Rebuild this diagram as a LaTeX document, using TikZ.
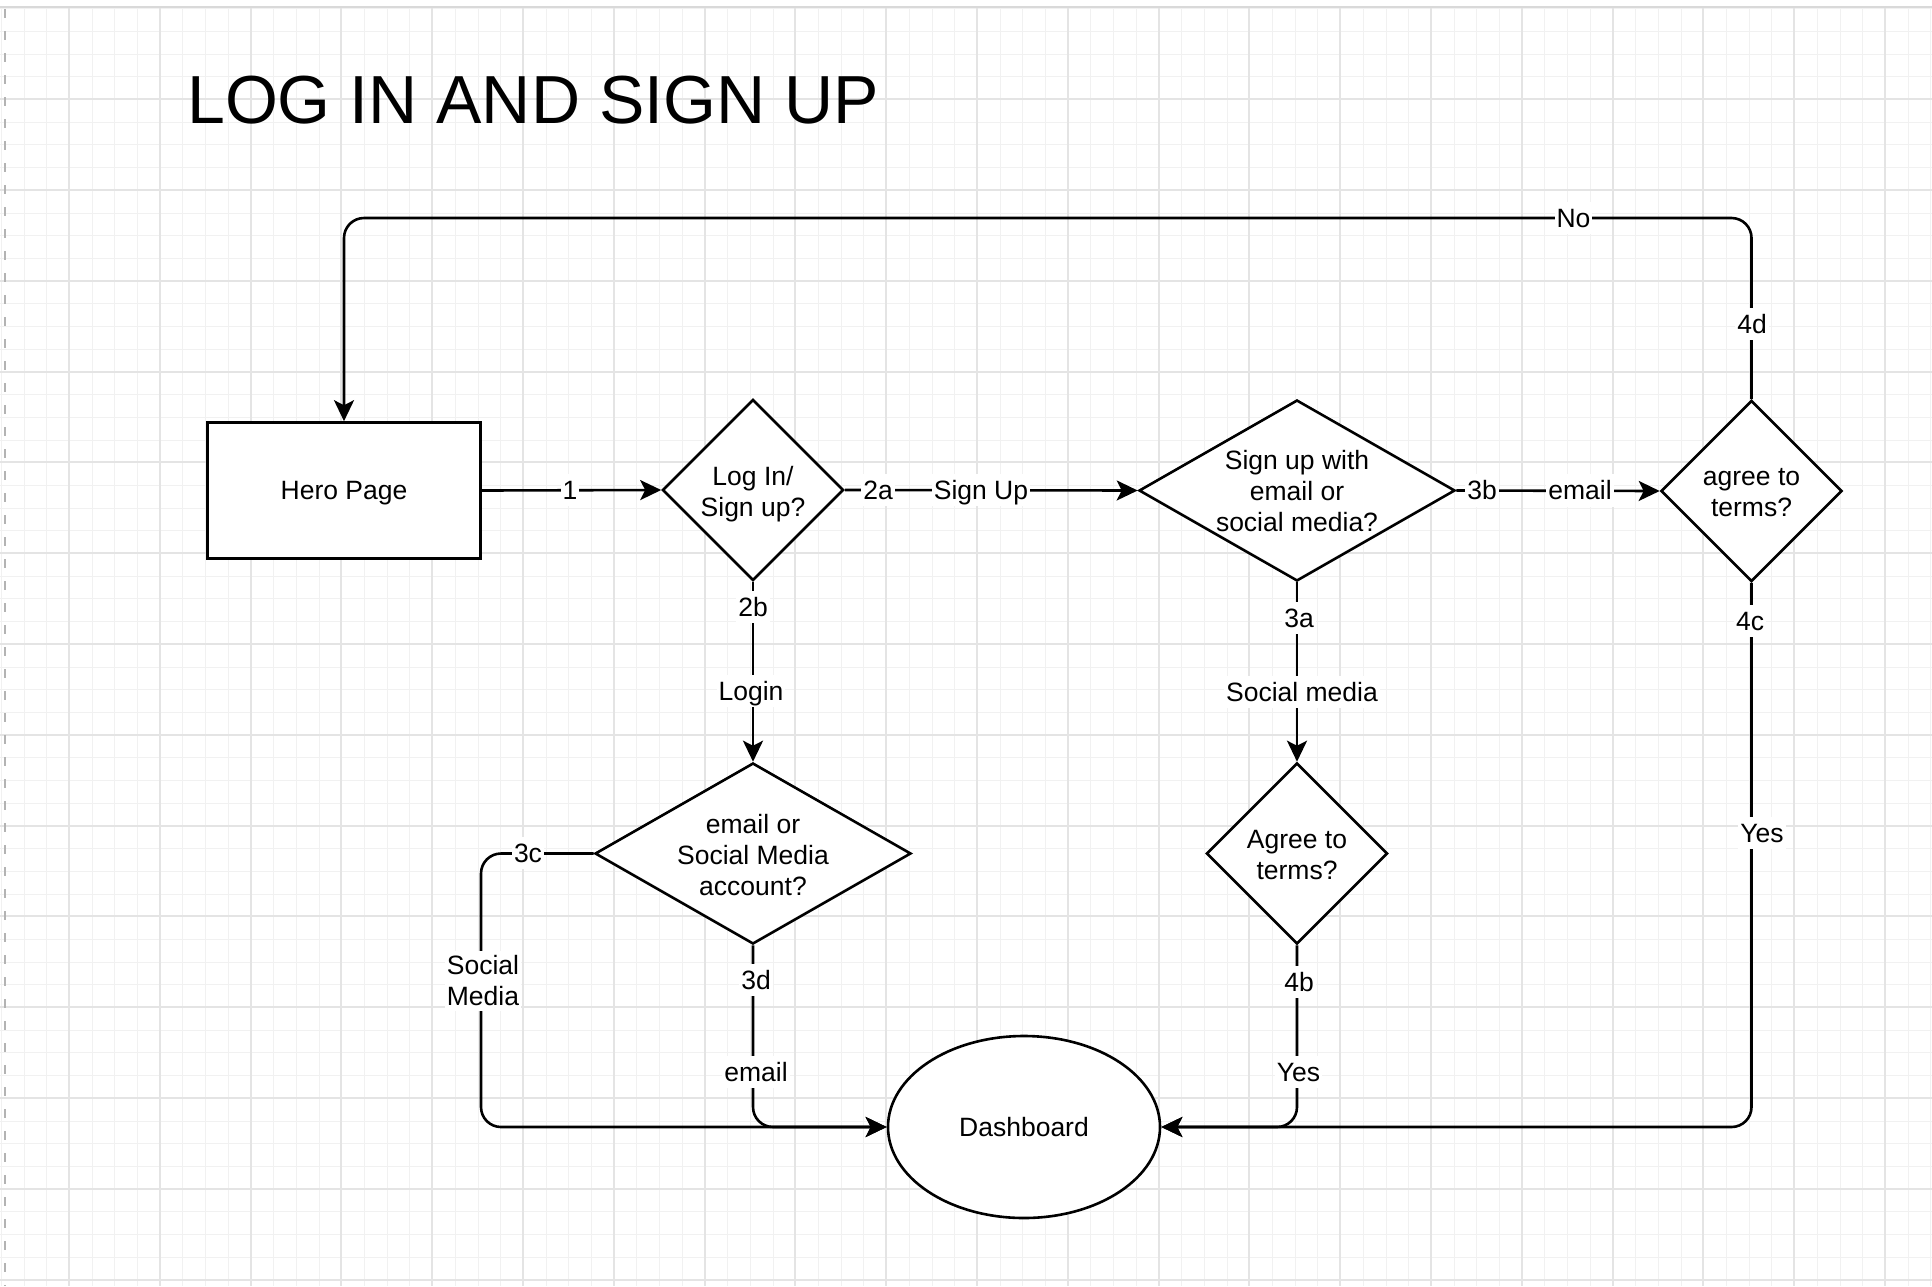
\documentclass[tikz,border=0pt]{standalone}
\usepackage{fontspec}
\setmainfont{Liberation Sans}
\usetikzlibrary{shapes.geometric,arrows.meta}
\definecolor{gridmin}{HTML}{F1F1F1}
\definecolor{gridmaj}{HTML}{E4E4E4}
\definecolor{frameline}{HTML}{D9D9D9}
\definecolor{pagedash}{HTML}{B3B3B3}
\newcommand\fsnode{\fontsize{26.5}{31}\selectfont}
\newcommand\fstitle{\fontsize{68}{80}\selectfont}

\begin{document}
\begin{tikzpicture}[x=1pt,y=-1pt,
  shapebox/.style={draw, line width=2.6pt, fill=white, font=\fsnode, inner sep=0pt},
  onelinetext/.style={text height=24pt, text depth=5.6pt},
  rectbox/.style={shapebox, onelinetext, rectangle, minimum width=273pt, minimum height=136pt},
  decision/.style={shapebox, diamond, minimum width=181pt, minimum height=181pt},
  widedecision/.style={shapebox, diamond, minimum width=316pt, minimum height=181pt},
  ovalbox/.style={shapebox, onelinetext, ellipse, minimum width=272pt, minimum height=182pt},
  boxtext/.style={font=\fsnode, align=center, inner sep=0pt, yshift=-1.5pt},
  conn/.style={line width=2.6pt, rounded corners=20pt,
    -{Stealth[length=21pt,width=20pt,inset=5pt]}},
  edgelabel/.style={fill=white, font=\fsnode, onelinetext, inner xsep=2pt, inner ysep=1.5pt},
  edgelabeltwo/.style={fill=white, font=\fsnode, align=center, inner xsep=2pt, inner ysep=5pt},
  minorline/.style={gridmin, line width=1pt},
  majorline/.style={gridmaj, line width=2pt}
]
% page and background grid
\useasboundingbox (0,0) rectangle (1932,1286);
\fill[white] (0,0) rectangle (1932,1286);
\foreach \m in {-3,...,82} {
  \pgfmathsetmacro{\gx}{round(69+22.7*\m)+0.5}
  \draw[minorline] (\gx,8) -- (\gx,1286);
}
\foreach \m in {0,...,56} {
  \pgfmathsetmacro{\gy}{round(8.3+22.7*\m)+0.5}
  \draw[minorline] (0,\gy) -- (1932,\gy);
}
\foreach \m in {0,...,20} {
  \pgfmathsetmacro{\gx}{round(69+90.8*\m)}
  \draw[majorline] (\gx,8) -- (\gx,1286);
}
\foreach \m in {1,...,14} {
  \pgfmathsetmacro{\gy}{round(8.3+90.8*\m)}
  \draw[majorline] (0,\gy) -- (1932,\gy);
}
\draw[frameline, line width=1.6pt] (0,7) -- (1932,7);
\draw[pagedash, line width=1.6pt, dash pattern=on 9pt off 13pt] (5,9) -- (5,1286);

% title
\node[anchor=base west, font=\fstitle, inner sep=0pt] (title) at (187,123) {LOG IN AND SIGN UP};

% shapes
\node[rectbox] (hero) at (344,490.5) {Hero Page};
\node[decision] (login) at (753,490) {};
\node[boxtext, yshift=-2.5pt] (loginT) at (login) {Log In/\\Sign up?};
\node[widedecision] (method) at (1297,490.5) {};
\node[boxtext, yshift=1pt] (methodT) at (method) {Sign up with\\email or\\social media?};
\node[decision] (terms) at (1751.5,491) {};
\node[boxtext] (termsT) at (terms) {agree to\\terms?};
\node[widedecision] (account) at (753,853.5) {};
\node[boxtext] (accountT) at (account) {email or\\Social Media\\account?};
\node[decision] (socialterms) at (1297,853.5) {};
\node[boxtext] (socialtermsT) at (socialterms) {Agree to\\terms?};
\node[ovalbox] (dash) at (1024,1127) {Dashboard};

% connectors
\coordinate (topY) at (0,218);
\coordinate (leftX) at (481,0);
\draw[conn] (hero.east) -- (login.west);
\draw[conn] (login.east) -- (method.west);
\draw[conn] (method.east) -- (terms.west);
\draw[conn] (terms.north) -- (terms.north |- topY) -- (hero.north |- topY) -- (hero.north);
\draw[conn] (login.south) -- (account.north);
\draw[conn] (method.south) -- (socialterms.north);
\draw[conn] (account.west) -- (account.west -| leftX) -- (leftX |- dash.west) -- (dash.west);
\draw[conn] (account.south) |- (dash.west);
\draw[conn] (socialterms.south) |- (dash.east);
\draw[conn] (terms.south) |- (dash.east);

% connector labels
\node[edgelabel] (l1) at (570,490) {1};
\node[edgelabel] (l2a) at (878,490) {2a};
\node[edgelabel] (lsignup) at (981,490) {Sign Up};
\node[edgelabel] (l3b) at (1482,490.5) {3b};
\node[edgelabel] (lemailA) at (1580,490.5) {email};
\node[edgelabel] (l4d) at (1752,324) {4d};
\node[edgelabel] (lno) at (1573.5,218) {No};
\node[edgelabel] (l2b) at (753,607) {2b};
\node[edgelabel] (llogin) at (751,691) {Login};
\node[edgelabel] (l3a) at (1299,618) {3a};
\node[edgelabel] (lsocial) at (1302,692) {Social media};
\node[edgelabel] (l3c) at (528,853) {3c};
\node[edgelabeltwo] (lsocialmedia) at (483,981) {Social\\Media};
\node[edgelabel] (l3d) at (756,980) {3d};
\node[edgelabel] (lemailB) at (756,1072) {email};
\node[edgelabel] (l4b) at (1299,982) {4b};
\node[edgelabel] (lyesA) at (1298.5,1072) {Yes};
\node[edgelabel] (l4c) at (1750,621) {4c};
\node[edgelabel] (lyesB) at (1762,833) {Yes};
\end{tikzpicture}
\end{document}
